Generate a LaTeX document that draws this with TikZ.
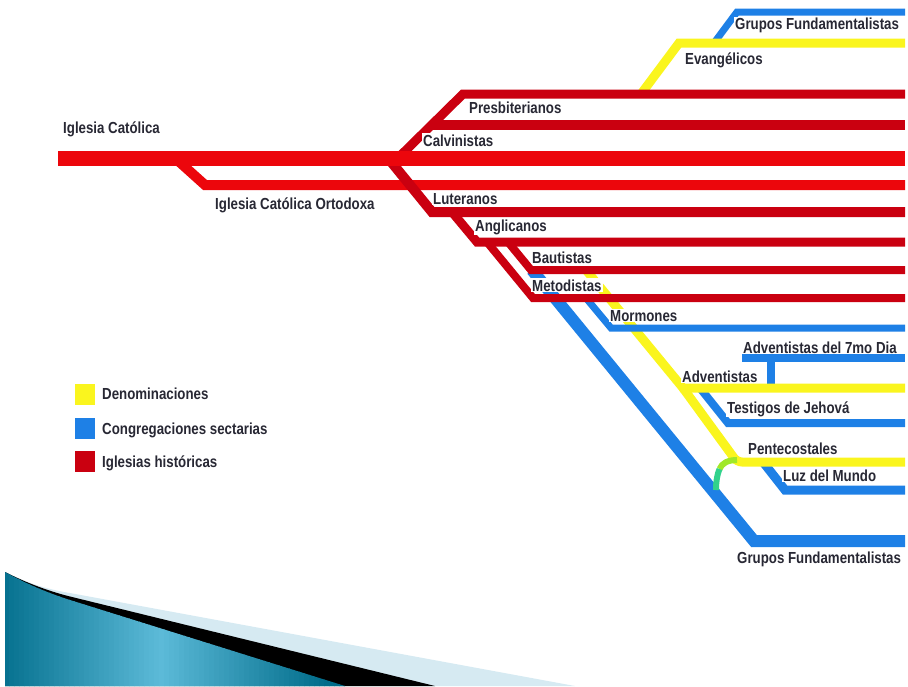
\documentclass[tikz,border=0pt]{standalone}
\usepackage{fontspec}
\newfontfamily\labfont{Liberation Sans}[FakeStretch=0.83]
\definecolor{mred}{RGB}{236,6,12}
\definecolor{dred}{RGB}{202,0,16}
\definecolor{mblue}{RGB}{30,128,230}
\definecolor{myel}{RGB}{250,245,30}
\definecolor{labc}{RGB}{40,40,52}
\definecolor{tealD}{RGB}{0,108,138}
\definecolor{tealL}{RGB}{92,186,216}
\definecolor{lightB}{RGB}{214,234,242}
\definecolor{arcA}{RGB}{160,232,40}
\definecolor{arcB}{RGB}{50,210,140}
\begin{document}
\begin{tikzpicture}[x=1pt,y=-1pt,
  lab/.style={anchor=base west, inner sep=1pt, fill=white, text=labc,
    font=\labfont\bfseries\fontsize{16}{18}\selectfont},
  redline/.style={draw=dred, line width=#1},
  mainline/.style={draw=mred, line width=#1},
  blueline/.style={draw=mblue, line width=#1},
  yelline/.style={draw=myel, line width=#1},
  legbox/.style={minimum width=20pt, minimum height=21pt, inner sep=0pt}]
\useasboundingbox (0,0) rectangle (908,686);
% ---------- bottom swoosh ----------
\fill[lightB] (5,572) .. controls (25,582) and (45,589) .. (70,593) -- (575,686) -- (5,686) -- cycle;
\fill[black] (5,572) .. controls (25,582) and (45,590) .. (68,596) -- (435,686) -- (5,686) -- cycle;
\begin{scope}
  \clip (5,572) .. controls (25,583) and (45,592) .. (70,600) -- (345,686) -- (5,686) -- cycle;
  \foreach \i in {0,...,69} {
    \pgfmathsetmacro{\xx}{4+5*\i}
    \pgfmathtruncatemacro{\pp}{min(100,abs(\xx+2.5-160)/165*100)}
    \fill[tealD!\pp!tealL] (\xx,570) rectangle (\xx+5.6,687);
  }
\end{scope}
% ---------- coordinates ----------
\coordinate (icA) at (58,158);  \coordinate (icB) at (905,158);
\coordinate (orA) at (175,158); \coordinate (orB) at (205,185); \coordinate (orC) at (905,185);
\coordinate (prA) at (398,158); \coordinate (prB) at (463,94);  \coordinate (prC) at (905,94);
\coordinate (caA) at (431,125); \coordinate (caB) at (905,125);
\coordinate (luA) at (388,158); \coordinate (luB) at (432,212); \coordinate (luC) at (905,212);
\coordinate (anA) at (452,212); \coordinate (anB) at (477,242); \coordinate (anC) at (905,242);
\coordinate (baA) at (508,242); \coordinate (baB) at (531,270); \coordinate (baC) at (905,270);
\coordinate (meA) at (487,242); \coordinate (meB) at (533,298); \coordinate (meC) at (905,298);
\coordinate (evA) at (641,94);  \coordinate (evB) at (679,43);  \coordinate (evC) at (905,43);
\coordinate (gtA) at (714,43);  \coordinate (gtB) at (737,12);  \coordinate (gtC) at (905,12);
\coordinate (gbA) at (532,270); \coordinate (gbB) at (754,541); \coordinate (gbC) at (905,541);
\coordinate (moA) at (586,298); \coordinate (moB) at (611,328); \coordinate (moC) at (905,328);
\coordinate (adA) at (586,270); \coordinate (adB) at (683,388); \coordinate (adC) at (905,388);
\coordinate (sdA) at (742,358); \coordinate (sdB) at (905,358);
\coordinate (sdS) at (771,358); \coordinate (sdT) at (771,388);
\coordinate (teA) at (700,388); \coordinate (teB) at (728,423); \coordinate (teC) at (905,423);
\coordinate (peA) at (683,388); \coordinate (peB) at (737,462); \coordinate (peC) at (905,462);
\coordinate (lzA) at (763,462); \coordinate (lzB) at (785,490); \coordinate (lzC) at (905,490);
\coordinate (gaA) at (737,460); \coordinate (gaM) at (719.5,469); \coordinate (gaB) at (716,490);
% ---------- blue lines (under yellow) ----------
\draw[blueline=12] (gbA) -- (gbB) -- (gbC);
\draw[blueline=8] (teA) -- (teB) -- (teC);
\draw[blueline=9] (lzA) -- (lzB) -- (lzC);
\draw[blueline=8] (sdA) -- (sdB);
\draw[blueline=8] (sdS) -- (sdT);
\draw[blueline=7] (gtA) -- (gtB) -- (gtC);
% ---------- yellow lines ----------
\draw[yelline=9] (evA) -- (evB) -- (evC);
\draw[yelline=9] (adA) -- (adB) -- (adC);
\draw[yelline=9, rounded corners=5pt] (peA) -- (peB) -- (peC);
\draw[draw=arcA, line width=6] (gaA) .. controls (728,460) and (722,463) .. (gaM);
\draw[draw=arcB, line width=6] (gaM) .. controls (717,475) and (716,482) .. (gaB);
% ---------- blue over yellow ----------
\draw[blueline=7] (moA) -- (moB) -- (moC);
% ---------- red lines ----------
\draw[mainline=10] (orA) -- (orB) -- (orC);
\draw[redline=9] (prA) -- (prB) -- (prC);
\draw[redline=10] (caA) -- (caB);
\draw[redline=10] (luA) -- (luB) -- (luC);
\draw[redline=9] (anA) -- (anB) -- (anC);
\draw[redline=8] (baA) -- (baB) -- (baC);
\draw[redline=8] (meA) -- (meB) -- (meC);
\draw[mainline=15] (icA) -- (icB);
% ---------- labels ----------
\node[lab] (tGt) at (734,29.5) {Grupos Fundamentalistas};
\node[lab] (tEv) at (684,64) {Evangélicos};
\node[lab] (tPr) at (468,113) {Presbiterianos};
\node[lab] (tCa) at (422,146) {Calvinistas};
\node[lab] (tIc) at (62,133) {Iglesia Católica};
\node[lab] (tOr) at (214,209) {Iglesia Católica Ortodoxa};
\node[lab] (tLu) at (432,204) {Luteranos};
\node[lab] (tAn) at (474,231) {Anglicanos};
\node[lab] (tBa) at (531,263) {Bautistas};
\node[lab] (tMe) at (531,291) {Metodistas};
\node[lab] (tMo) at (609,321) {Mormones};
\node[lab] (tSd) at (742,353) {Adventistas del 7mo Dia};
\node[lab] (tAd) at (681,382) {Adventistas};
\node[lab] (tTe) at (726,413) {Testigos de Jehová};
\node[lab] (tPe) at (747,454) {Pentecostales};
\node[lab] (tLz) at (782,481) {Luz del Mundo};
\node[lab] (tGb) at (736,563) {Grupos Fundamentalistas};
% ---------- legend ----------
\node[legbox, fill=myel] (kY) at (85,394) {};
\node[legbox, fill=mblue] (kB) at (85,428) {};
\node[legbox, fill=dred] (kR) at (85,461) {};
\node[lab] (lY) at (101,399) {Denominaciones};
\node[lab] (lB) at (101,434) {Congregaciones sectarias};
\node[lab] (lR) at (101,467) {Iglesias históricas};
\end{tikzpicture}
\end{document}
